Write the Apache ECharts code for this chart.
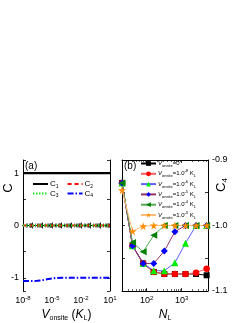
<!DOCTYPE html>
<html><head><meta charset="utf-8">
<script src="https://cdn.jsdelivr.net/npm/echarts@6/dist/echarts.min.js"></script>
<style>html,body{margin:0;padding:0;background:#fff}#c{width:249px;height:323px}</style>
</head><body><div id="c"></div>
<script>
// Panel (a)
const vOnsite = [1e-8, 1e-7, 3e-7, 1e-6, 3e-6, 1e-5, 3e-5, 1e-4, 1e-3, 1e-2, 1e-1, 1, 10];
const c1 = [1, 1, 1, 1, 1, 1, 1, 1, 1, 1, 1, 1, 1];
const c2 = [0, 0, 0, 0, 0, 0, 0, 0, 0, 0, 0, 0, 0];
const c3 = [0, 0, 0, 0, 0, 0, 0, 0, 0, 0, 0, 0, 0];
const c4 = [-1.06, -1.058, -1.055, -1.045, -1.025, -1.01, -1.0, -0.998, -0.997, -0.997, -0.997, -0.997, -0.997];
const aLabelExp = [-8, -5, -2, 1];
// Panel (b)
const nL = [20, 40, 80, 160, 320, 640, 1280, 2560, 5120];
const sV0 = [-0.935, -1.031, -1.058, -1.071, -1.074, -1.074, -1.074, -1.074, -1.076];
const sV8 = [-0.935, -1.031, -1.058, -1.071, -1.074, -1.074, -1.074, -1.072, -1.066];
const sV6 = [-0.935, -1.031, -1.058, -1.069, -1.069, -1.057, -1.027, -1.0, -1.0];
const sV5 = [-0.935, -1.031, -1.058, -1.058, -1.039, -1.0096, -1.0, -1.0, -1.0];
const sV4 = [-0.935, -1.026, -1.040, -1.015, -1.0, -1.0, -1.0, -1.0, -1.0];
const sV3 = [-0.946, -1.0086, -1.001, -1.0, -1.0, -1.0, -1.0, -1.0, -1.0];
const bLabelExp = [2, 3];
const legendExp = {V8: '-8', V6: '-6', V5: '-5', V4: '-4', V3: '-3'};

const FF = 'Liberation Sans';
const pair = (xs, ys) => xs.map((x, i) => [x, ys[i]]);
const supRich = {
  b: {fontSize: 9, fontFamily: FF, color: '#000', lineHeight: 12},
  s: {fontSize: 6, fontFamily: FF, color: '#000', verticalAlign: 'top', lineHeight: 7}
};
function logFmt(list) {
  return function (v) {
    const l = Math.log10(v), e = Math.round(l);
    if (Math.abs(l - e) > 1e-6 || list.indexOf(e) < 0) return '';
    return '{b|10}{s|' + (e < 0 ? '-' + (-e) : e) + '}';
  };
}
const axLine = {show: true, lineStyle: {color: '#000', width: 1}};
const tickIn = (len) => ({show: true, inside: true, length: len, lineStyle: {color: '#000', width: 0.8}});
const minorIn = {show: true, splitNumber: 9, length: 2, lineStyle: {color: '#000', width: 0.6}};

const chart = echarts.init(document.getElementById('c'), null, {renderer: 'canvas'});
const nameRich = {
  i: {fontSize: 12, fontFamily: FF, fontStyle: 'italic', color: '#000', lineHeight: 14},
  n: {fontSize: 12, fontFamily: FF, color: '#000', lineHeight: 14},
  sub: {fontSize: 7, fontFamily: FF, color: '#000', verticalAlign: 'bottom', lineHeight: 8}
};
const legRich = {
  i: {fontSize: 6, fontFamily: FF, fontStyle: 'italic', color: '#000', lineHeight: 9},
  n: {fontSize: 6, fontFamily: FF, color: '#000', lineHeight: 9},
  sub: {fontSize: 4, fontFamily: FF, color: '#000', verticalAlign: 'bottom', lineHeight: 5},
  sup: {fontSize: 4, fontFamily: FF, color: '#000', verticalAlign: 'top', lineHeight: 5}
};
const cRich = {
  c: {fontSize: 8, fontFamily: FF, color: '#000', lineHeight: 10},
  sub: {fontSize: 5, fontFamily: FF, color: '#000', verticalAlign: 'bottom', lineHeight: 6}
};

function bSeries(name, data, mColor, lColor, symbol, size, rot) {
  return {
    name: name, type: 'line', xAxisIndex: 2, yAxisIndex: 3, data: pair(nL, data),
    symbol: symbol, symbolSize: size, symbolRotate: rot || 0, showAllSymbol: true,
    itemStyle: {color: mColor}, lineStyle: {color: lColor, width: 1}, clip: false,
    animation: false, z: 3
  };
}
const star = 'path://M50,0 L61,35 L98,35 L68,57 L79,91 L50,70 L21,91 L32,57 L2,35 L39,35 Z';
const cLegend = (top, names) => ({
  left: 32, top: top, padding: 0, itemWidth: 15, itemHeight: 6, itemGap: 8, data: names,
  itemStyle: {opacity: 0},
  formatter: n => '{c|C}{sub|' + n.slice(1) + '}', textStyle: {rich: cRich, padding: [0, 0, 0, -3]}
});

chart.setOption({
  animation: false,
  backgroundColor: '#fff',
  grid: [
    {left: 23, top: 160, width: 87, height: 132},
    {left: 122, top: 160, width: 86, height: 132}
  ],
  xAxis: [
    {type: 'log', gridIndex: 0, min: 1e-8, max: 10, axisLine: axLine, axisTick: tickIn(3), minorTick: minorIn,
     splitLine: {show: false}, minorSplitLine: {show: false},
     axisLabel: {formatter: logFmt(aLabelExp), rich: supRich, margin: 4, showMinLabel: true, showMaxLabel: true, hideOverlap: false},
     name: '{i|V}{sub|onsite}{n| (}{i|K}{sub|L}{n|)}', nameLocation: 'middle', nameGap: 17, nameTextStyle: {rich: nameRich}},
    {type: 'log', gridIndex: 0, position: 'top', min: 1e-8, max: 10, axisLine: axLine, axisTick: tickIn(3), minorTick: minorIn,
     splitLine: {show: false}, axisLabel: {show: false}},
    {type: 'log', gridIndex: 1, min: 20, max: 5600, axisLine: axLine, axisTick: tickIn(3), minorTick: minorIn,
     splitLine: {show: false},
     axisLabel: {formatter: logFmt(bLabelExp), rich: supRich, margin: 4, hideOverlap: false},
     name: '{i|N}{sub|L}', nameLocation: 'middle', nameGap: 17, nameTextStyle: {rich: nameRich}},
    {type: 'log', gridIndex: 1, position: 'top', min: 20, max: 5600, axisLine: axLine, axisTick: tickIn(3), minorTick: minorIn,
     splitLine: {show: false}, axisLabel: {show: false}}
  ],
  yAxis: [
    {type: 'value', gridIndex: 0, min: -1.25, max: 1.25, splitNumber: 5, axisLine: axLine, axisTick: tickIn(3),
     splitLine: {show: false},
     axisLabel: {fontSize: 9, fontFamily: FF, color: '#000', margin: 4,
       formatter: v => (Math.abs(v - Math.round(v)) < 1e-6 ? String(Math.round(v)) : '')}},
    {type: 'value', gridIndex: 0, position: 'right', min: -1.25, max: 1.25, splitNumber: 5, axisLine: axLine, axisTick: tickIn(3),
     splitLine: {show: false}, axisLabel: {show: false}},
    {type: 'value', gridIndex: 1, position: 'left', min: -1.1, max: -0.9, interval: 0.05, axisLine: axLine, axisTick: tickIn(3),
     splitLine: {show: false}, axisLabel: {show: false}},
    {type: 'value', gridIndex: 1, position: 'right', min: -1.1, max: -0.9, interval: 0.05, axisLine: axLine, axisTick: tickIn(3),
     splitLine: {show: false},
     axisLabel: {fontSize: 9, fontFamily: FF, color: '#000', margin: 4,
       formatter: function (v) { const r = Math.round(v * 100) / 100; return Math.abs(r * 10 - Math.round(r * 10)) < 1e-6 ? r.toFixed(1) : ''; }}}
  ],
  legend: [
    cLegend(180, ['C1', 'C2']),
    cLegend(189.5, ['C3', 'C4']),
    {left: 140, top: 160.5, padding: 0, orient: 'vertical', itemWidth: 15, itemHeight: 6, itemGap: 1.3,
     data: ['V0', 'V8', 'V6', 'V5', 'V4', 'V3'],
     formatter: n => n === 'V0' ? '{i|V}{sub|onsite}{n|=0}' : '{i|V}{sub|onsite}{n|=1.0}{sup|' + legendExp[n] + '}{n| K}{sub|L}',
     textStyle: {rich: legRich, padding: [0, 0, 0, -3]}}
  ],
  graphic: [
    {type: 'text', x: 25, y: 161, style: {text: '(a)', font: '10px "Liberation Sans"', fill: '#000'}},
    {type: 'text', x: 124, y: 161, style: {text: '(b)', font: '10px "Liberation Sans"', fill: '#000'}},
    {type: 'text', x: 8, y: 188, rotation: Math.PI / 2,
     style: {text: 'C', font: '13px "Liberation Sans"', fill: '#000', align: 'center', verticalAlign: 'middle'}},
    {type: 'text', x: 221, y: 185, rotation: Math.PI / 2,
     style: {text: '{c|C}{s|4}', align: 'center', verticalAlign: 'middle',
       rich: {c: {fontSize: 13, fontFamily: FF, fill: '#000', lineHeight: 15},
              s: {fontSize: 8, fontFamily: FF, fill: '#000', verticalAlign: 'bottom', lineHeight: 9}}}}
  ],
  series: [
    {name: 'C1', type: 'line', xAxisIndex: 0, yAxisIndex: 0, data: pair(vOnsite, c1), symbol: 'none', showSymbol: false,
     lineStyle: {color: '#000', width: 2.2}, itemStyle: {color: '#000'}},
    {name: 'C2', type: 'line', xAxisIndex: 0, yAxisIndex: 0, data: pair(vOnsite, c2), symbol: 'none', showSymbol: false,
     lineStyle: {color: '#ff0000', width: 2, type: [4, 3]}, itemStyle: {color: '#ff0000'}},
    {name: 'C3', type: 'line', xAxisIndex: 0, yAxisIndex: 0, data: pair(vOnsite, c3), symbol: 'none', showSymbol: false,
     lineStyle: {color: '#22dd22', width: 2, type: [1.5, 1.5]}, itemStyle: {color: '#22dd22'}},
    {name: 'C4', type: 'line', xAxisIndex: 0, yAxisIndex: 0, data: pair(vOnsite, c4), symbol: 'none', showSymbol: false,
     lineStyle: {color: '#0000ff', width: 2, type: [6, 2, 1.5, 2]}, itemStyle: {color: '#0000ff'}},
    bSeries('V0', sV0, '#000000', '#000000', 'rect', 6),
    bSeries('V8', sV8, '#ff0000', '#ff6060', 'circle', 6.5),
    bSeries('V6', sV6, '#00ee00', '#6060ff', 'triangle', 7),
    bSeries('V5', sV5, '#0000ff', '#993366', 'diamond', 7),
    bSeries('V4', sV4, '#008000', '#55aa55', 'triangle', 7, 90),
    bSeries('V3', sV3, '#ff8c00', '#ffbb77', star, 8)
  ]
});
</script></body></html>
